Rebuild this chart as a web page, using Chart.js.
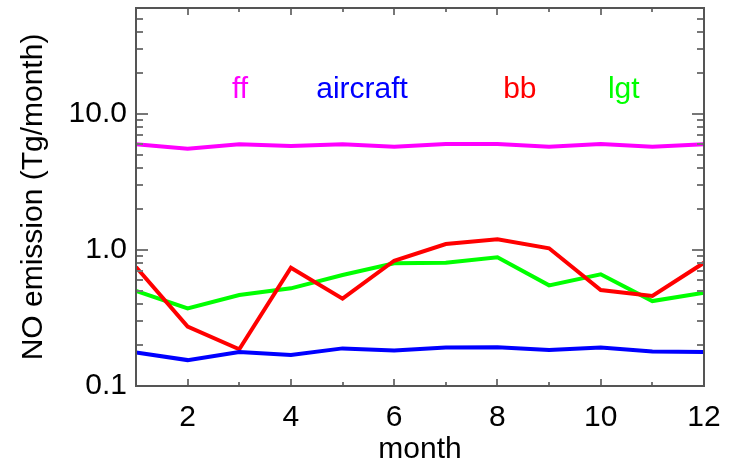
<!DOCTYPE html>
<html>
<head>
<meta charset="utf-8">
<script src="https://cdn.jsdelivr.net/npm/chart.js@4.4.1/dist/chart.umd.min.js"></script>
<style>
  html, body { margin: 0; padding: 0; background: #ffffff; }
  #wrap { width: 730px; height: 464px; }
</style>
</head>
<body>
<div id="wrap"><canvas id="c" width="730" height="464"></canvas></div>
<script>
// Monthly NO emission by source (Tg/month)
const months = [1, 2, 3, 4, 5, 6, 7, 8, 9, 10, 11, 12];
const ff       = [5.97, 5.54, 5.97, 5.80, 5.97, 5.73, 6.00, 6.00, 5.73, 6.00, 5.73, 5.97];
const aircraft = [0.176, 0.155, 0.178, 0.169, 0.189, 0.182, 0.192, 0.193, 0.184, 0.192, 0.179, 0.178];
const bb       = [0.75, 0.273, 0.186, 0.74, 0.438, 0.833, 1.105, 1.197, 1.028, 0.508, 0.459, 0.805];
const lgt      = [0.501, 0.372, 0.466, 0.522, 0.654, 0.797, 0.805, 0.882, 0.549, 0.662, 0.421, 0.485];

const xTicks = [2, 4, 6, 8, 10, 12];
const yTicks = [0.1, 1, 10];

// Source names written inside the plot: [text, colour, month, value]
const seriesLabels = [
  ['ff',       '#ff00ff', 2.86, 15.5],
  ['aircraft', '#0000ff', 4.49, 15.5],
  ['bb',       '#ff0000', 8.11, 15.5],
  ['lgt',      '#00ff00', 10.14, 15.5]
];

const FONT = "'Liberation Sans', Arial, Helvetica, sans-serif";

function series(vals) { return months.map((m, i) => ({ x: m, y: vals[i] })); }

function ds(label, vals, color) {
  return {
    label, data: series(vals), borderColor: color, backgroundColor: color,
    borderWidth: 4, pointRadius: 0, tension: 0, fill: false
  };
}

// Frame plus inward tick marks on all four sides
const framePlugin = {
  id: 'frame',
  afterDraw(chart) {
    const { ctx, chartArea: a, scales: { x, y } } = chart;
    ctx.save();
    ctx.strokeStyle = '#777';
    ctx.lineWidth = 2;
    ctx.beginPath();
    // x ticks: even months long, odd months short
    for (let m = 1; m <= 12; m++) {
      const px = Math.round(x.getPixelForValue(m));
      const len = (m % 2 === 0) ? 7 : 4;
      ctx.moveTo(px, a.bottom); ctx.lineTo(px, a.bottom - len);
      ctx.moveTo(px, a.top); ctx.lineTo(px, a.top + len);
    }
    // y ticks: decades long, 2..9 short
    for (let d = 0.1; d <= 10; d *= 10) {
      for (let k = 1; k <= 9; k++) {
        const v = d * k;
        if (v > y.max || v < y.min) continue;
        const py = Math.round(y.getPixelForValue(v));
        const len = (k === 1) ? 12 : 7;
        ctx.moveTo(a.left, py); ctx.lineTo(a.left + len, py);
        ctx.moveTo(a.right, py); ctx.lineTo(a.right - len, py);
      }
    }
    ctx.stroke();
    ctx.strokeStyle = '#555';
    ctx.lineWidth = 2;
    ctx.strokeRect(a.left, a.top, a.right - a.left, a.bottom - a.top);

    // source names
    ctx.font = '30px ' + FONT;
    ctx.textAlign = 'left';
    ctx.textBaseline = 'alphabetic';
    seriesLabels.forEach(([t, c, m, v]) => {
      ctx.fillStyle = c;
      ctx.fillText(t, x.getPixelForValue(m), y.getPixelForValue(v) + 10);
    });
    ctx.restore();
  }
};

function noEdgePadding(s) {
  s.paddingTop = 0; s.paddingBottom = 0; s.paddingLeft = 0; s.paddingRight = 0;
}

new Chart(document.getElementById('c'), {
  type: 'line',
  data: {
    datasets: [
      ds('ff', ff, '#ff00ff'),
      ds('aircraft', aircraft, '#0000ff'),
      ds('bb', bb, '#ff0000'),
      ds('lgt', lgt, '#00ff00')
    ]
  },
  options: {
    responsive: false,
    animation: false,
    devicePixelRatio: 1,
    layout: { padding: { left: 0, top: 8, right: 26, bottom: 0 } },
    plugins: { legend: { display: false }, tooltip: { enabled: false } },
    scales: {
      x: {
        type: 'linear', min: 1, max: 12,
        grid: { display: false, drawTicks: false },
        border: { display: false },
        afterBuildTicks: s => { s.ticks = xTicks.map(v => ({ value: v })); },
        afterFit: s => { s.height = 78; noEdgePadding(s); },
        ticks: {
          color: '#000', padding: 14, maxRotation: 0,
          font: { family: FONT, size: 30 },
          callback: v => String(v)
        },
        title: {
          display: true, text: 'month', color: '#000',
          font: { family: FONT, size: 30, lineHeight: 1.2 },
          padding: { top: 0, bottom: -4 }
        }
      },
      y: {
        type: 'logarithmic', min: 0.1, max: 60,
        grid: { display: false, drawTicks: false },
        border: { display: false },
        afterBuildTicks: s => { s.ticks = yTicks.map(v => ({ value: v })); },
        afterFit: s => { s.width = 136; noEdgePadding(s); },
        ticks: {
          color: '#000', padding: 9,
          font: { family: FONT, size: 30 },
          callback: v => Number(v).toFixed(1)
        },
        title: {
          display: true, text: 'NO emission (Tg/month)', color: '#000',
          font: { family: FONT, size: 30, lineHeight: 1.2 },
          padding: { top: 16, bottom: 0 }
        }
      }
    }
  },
  plugins: [framePlugin]
});
</script>
</body>
</html>
